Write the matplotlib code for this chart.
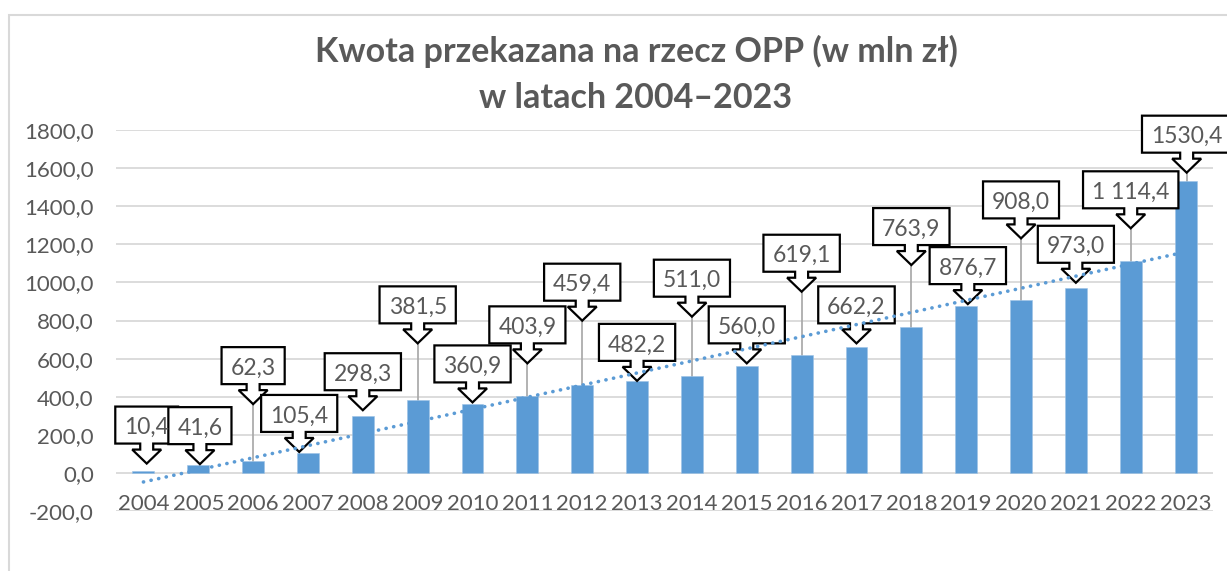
import numpy as np
import matplotlib
matplotlib.use("Agg")
import matplotlib.pyplot as plt
from matplotlib import transforms
from matplotlib.patches import Polygon, Rectangle

# ---------------- data ----------------
years = [str(y) for y in range(2004, 2024)]
values = [10.4, 41.6, 62.3, 105.4, 298.3, 381.5, 360.9, 403.9, 459.4, 482.2,
          511.0, 560.0, 619.1, 662.2, 763.9, 876.7, 908.0, 973.0, 1114.4, 1530.4]
value_labels = ["10,4", "41,6", "62,3", "105,4", "298,3", "381,5", "360,9", "403,9",
                "459,4", "482,2", "511,0", "560,0", "619,1", "662,2", "763,9",
                "876,7", "908,0", "973,0", "1 114,4", "1530,4"]
y_ticks = [-200, 0, 200, 400, 600, 800, 1000, 1200, 1400, 1600, 1800]
title_1 = "Kwota przekazana na rzecz OPP (w mln zł)"
title_2 = "w latach 2004–2023"

# ---------------- layout of the callouts (tip position) ----------------
label_tip_y = [49, 46, 361, 110, 329, 680, 370, 575, 799, 483,
               820, 575, 951, 680, 1091, 886, 1231, 998, 1284, 1576]
label_tip_dx = [0.06, 0.03, 0, -0.16, 0, 0, 0, 0, 0, 0,
                0, 0, 0, 0, 0, 0.03, 0, 0, 0, 0.02]

GRAY = "#595959"
BLUE = "#5B9BD5"
FONT = ["Lato", "DejaVu Sans"]
DPI = 100
W, H = 1227, 571
FS_AX = 16
FS_LAB = 16.5

plt.rcParams["font.family"] = FONT

fig = plt.figure(figsize=(W / DPI, H / DPI), dpi=DPI)
ax = fig.add_axes([116 / W, (H - 511) / H, 1097 / W, 381 / H])

x = np.arange(len(values))
ax.bar(x, values, width=0.4, color=BLUE, edgecolor="#9DC3E6", linewidth=0.4, zorder=2)

ax.set_xlim(-0.5, len(values) - 0.5)
ax.set_ylim(-200, 1800)
ax.set_yticks(y_ticks)
ax.set_yticklabels([f"{v:.1f}".replace(".", ",") for v in y_ticks])
ax.set_xticks([])
ax.tick_params(axis="y", length=0, pad=16, labelsize=FS_AX, labelcolor=GRAY)
for s in ax.spines.values():
    s.set_visible(False)
ax.grid(axis="y", color="#D9D9D9", linewidth=1.3, zorder=0)
ax.set_axisbelow(True)

# year labels sitting on the bottom gridline
for xi, yr in zip(x, years):
    ax.text(xi, -197, yr, ha="center", va="baseline", fontsize=FS_AX, color=GRAY)

# callouts
renderer = fig.canvas.get_renderer()
px = 1.0 / DPI
for xi, val, lab, ty, dx in zip(x, values, value_labels, label_tip_y, label_tip_dx):
    tx = xi + dx
    trans = fig.dpi_scale_trans + transforms.ScaledTranslation(tx, ty, ax.transData)
    t = ax.text(0, 29.5 * px, lab, transform=trans, ha="center", va="baseline",
                fontsize=FS_LAB, color=GRAY, zorder=6, clip_on=False)
    tw = t.get_window_extent(renderer).width
    bw = tw + 18
    hw = bw / 2
    verts = [(-hw, 20), (-6.5, 20), (-6.5, 14), (-14.5, 14), (0, 0), (14.5, 14),
             (6.5, 14), (6.5, 20), (hw, 20), (hw, 57), (-hw, 57)]
    verts = [(a * px, b * px) for a, b in verts]
    poly = Polygon(verts, closed=True, transform=trans, facecolor="white",
                   edgecolor="black", linewidth=1.6, zorder=5, clip_on=False,
                   joinstyle="miter")
    ax.add_patch(poly)
    # leader line when the callout is far from the bar
    if ty - val > 45:
        ax.plot([tx, tx], [val, ty], color="#A6A6A6", linewidth=1.2, zorder=1.5)

# linear trend line
coef = np.polyfit(x, values, 1)
ax.plot(x, np.polyval(coef, x), color=BLUE, linewidth=2.6, linestyle=(0, (0.05, 2.1)),
        dash_capstyle="round", zorder=7)

# titles
fig.text(636 / W, (H - 62) / H, title_1, ha="center", va="baseline",
         fontsize=24.5, fontweight="bold", color=GRAY)
fig.text(636 / W, (H - 108) / H, title_2, ha="center", va="baseline",
         fontsize=24.5, fontweight="bold", color=GRAY)

# chart frame (partially cropped)
fig.patches.append(Rectangle((9 / W, -0.2), 1.2, (H - 15) / H + 0.2,
                             transform=fig.transFigure, fill=False,
                             edgecolor="#D9D9D9", linewidth=1.5))

fig.savefig("out.png", dpi=DPI)
